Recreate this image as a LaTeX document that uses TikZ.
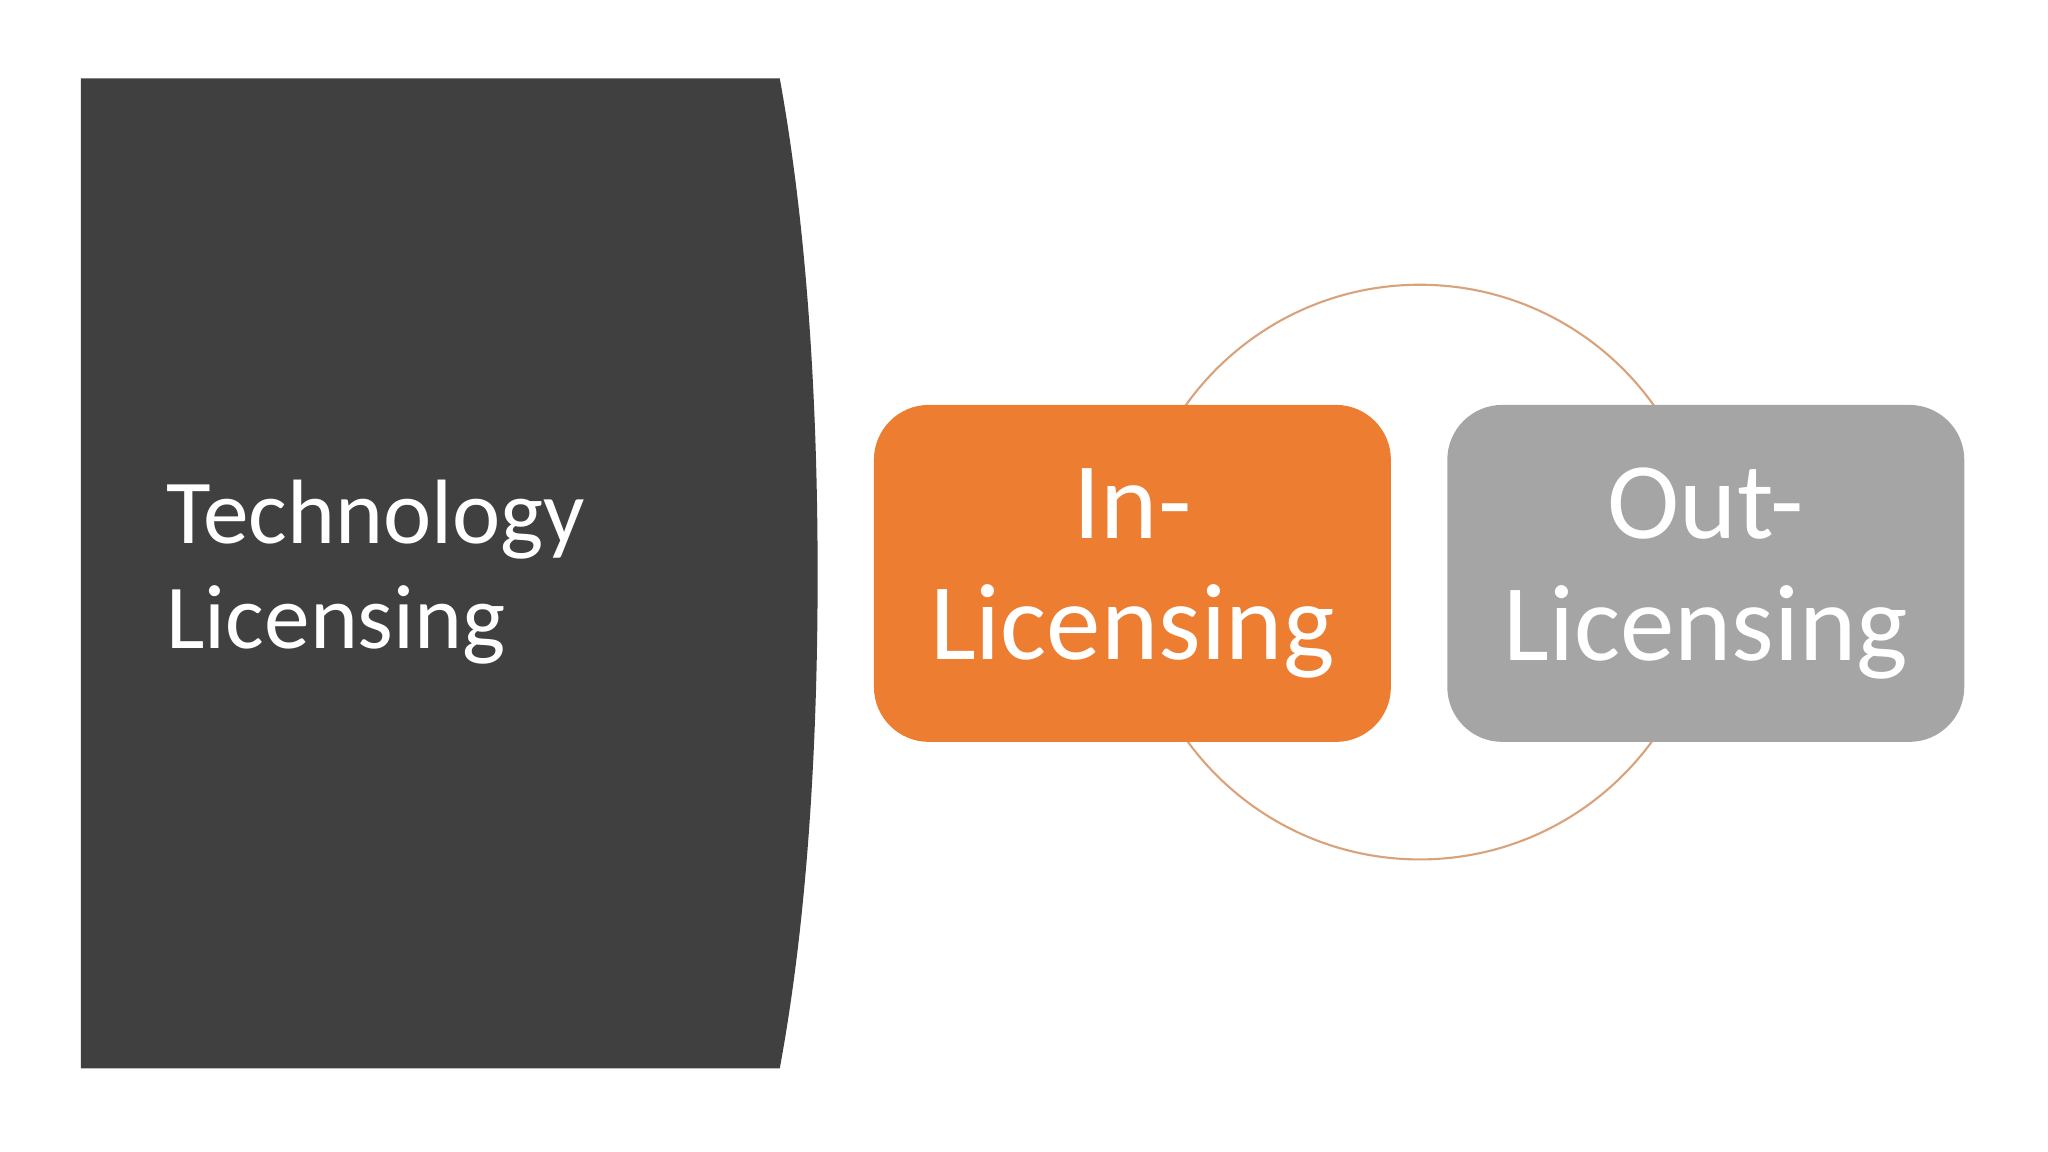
\documentclass[tikz,border=0pt]{standalone}
\usepackage{fontspec}
\setmainfont{Carlito}
\definecolor{dark}{HTML}{404040}
\definecolor{orng}{HTML}{ED7D31}
\definecolor{gry}{HTML}{A5A5A5}
\definecolor{ring}{HTML}{D9A27A}
\begin{document}
\begin{tikzpicture}[x=0.013061cm,y=-0.013061cm,
  boxst/.style={rounded corners=0.55cm,minimum width=5.17cm,minimum height=3.37cm,text=white,align=center,font=\fontsize{31}{34.5}\selectfont}]
\useasboundingbox (0,0) rectangle (1568,882);
\fill[dark] (62,60) -- (597,60) .. controls (617,170) and (626,300) .. (626,440) .. controls (626,580) and (617,710) .. (597,818) -- (62,818) -- cycle;
\node[text=white,align=left,anchor=west,font=\fontsize{26}{30}\selectfont] (title) at (118,438) {Technology\\Licensing};
\draw[ring,line width=0.6pt] (1087,438) circle (220);
\node[boxst,fill=orng] (in) at (867,439) {In-\\Licensing};
\node[boxst,fill=gry] (out) at (1306,439) {Out-\\Licensing};
\end{tikzpicture}
\end{document}
